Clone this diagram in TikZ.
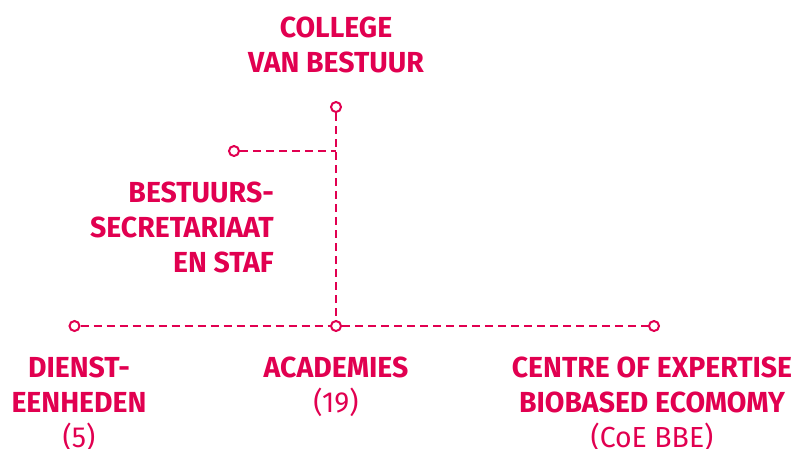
\documentclass[tikz,border=0pt]{standalone}
\usepackage{fontspec}
\setmainfont{Fira Sans}[FakeStretch=0.98]
\definecolor{hzrood}{RGB}{225,0,80}

\begin{document}
\begin{tikzpicture}[x=1pt, y=-1pt,
    lijn/.style={hzrood, line width=2pt, dash pattern=on 8pt off 5pt},
    bol/.style={circle, draw=hzrood, fill=white, line width=2pt, inner sep=0pt, minimum size=10pt},
    kop/.style={text=hzrood, inner sep=0pt, font=\fontsize{29}{35}\selectfont\bfseries, align=center}]
            \useasboundingbox (0,0) rectangle (794,448);

            \node[bol] (cvb) at (336,107) {};
            \node[bol] (bs) at (234,151) {};
            \coordinate (knik) at (336,151);
            \node[bol] (de) at (74.5,326) {};
            \node[bol] (ac) at (336,326) {};
            \node[bol] (coe) at (654,326) {};

            \draw[lijn] (cvb) -- (ac);
            \draw[lijn] (bs) -- (knik);
            \draw[lijn] (de) -- (ac);
            \draw[lijn] (ac) -- (coe);

            \node[kop, anchor=north] (cvbtekst) at (336,17) {COLLEGE\\VAN BESTUUR};
            \node[kop, anchor=north east, align=right] (bstekst) at (274,182) {BESTUURS-\\SECRETARIAAT\\EN STAF};
            \node[kop, anchor=north] (detekst) at (79,357) {DIENST-\\EENHEDEN\\{\mdseries (5)}};
            \node[kop, anchor=north] (actekst) at (336,357) {ACADEMIES\\{\mdseries (19)}};
            \node[kop, anchor=north] (coetekst) at (652,357) {CENTRE OF EXPERTISE\\BIOBASED ECOMOMY\\{\mdseries (CoE BBE)}};
        \end{tikzpicture}
\end{document}
